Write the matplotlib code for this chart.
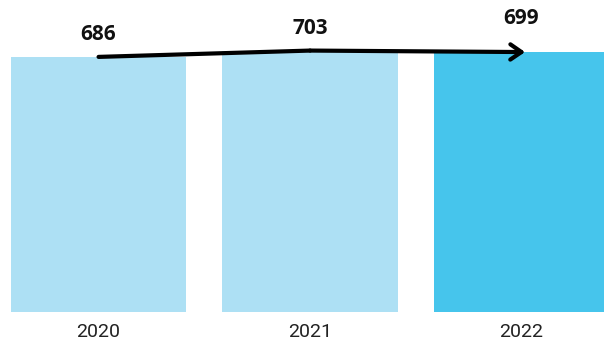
import matplotlib

matplotlib.use("Agg")
import matplotlib.pyplot as plt

years = ["2020", "2021", "2022"]
values = [686, 703, 699]
bar_colors = ["#ade0f4", "#ade0f4", "#46c5ec"]
label_offsets = [16, 16, 24]  # points above bar top

figure = plt.figure(figsize=(6.04, 3.46), dpi=100)
axis = figure.add_axes([0, 34 / 346, 1, 312 / 346])

positions = list(range(len(years)))
axis.bar(positions, values, width=0.83, color=bar_colors)
axis.set_xlim(-0.466, 2.39)
axis.set_ylim(0, 839)

axis.set_xticks(positions)
axis.set_xticklabels(years, fontsize=14, fontfamily="Roboto", color="#222222")
axis.tick_params(axis="x", length=0, pad=8)
axis.set_yticks([])
for spine in axis.spines.values():
    spine.set_visible(False)

for x, value, offset in zip(positions, values, label_offsets):
    axis.annotate(
        str(value),
        (x, value),
        xytext=(0, offset),
        textcoords="offset points",
        ha="center",
        va="center",
        fontsize=15,
        fontweight="bold",
        fontfamily="Open Sans",
        color="#111111",
    )

# trend arrow across the bar tops
axis.plot(positions[:2], values[:2], color="black", lw=3, solid_capstyle="round", clip_on=False)
axis.annotate(
    "",
    xy=(positions[2] + 0.017, values[2]),
    xytext=(positions[1], values[1]),
    arrowprops=dict(
        arrowstyle="->,head_length=0.8,head_width=0.55",
        color="black",
        lw=3,
        shrinkA=0,
        shrinkB=0,
        capstyle="round",
        joinstyle="round",
    ),
)

figure.savefig("out.png", dpi=100)
plt.close(figure)
